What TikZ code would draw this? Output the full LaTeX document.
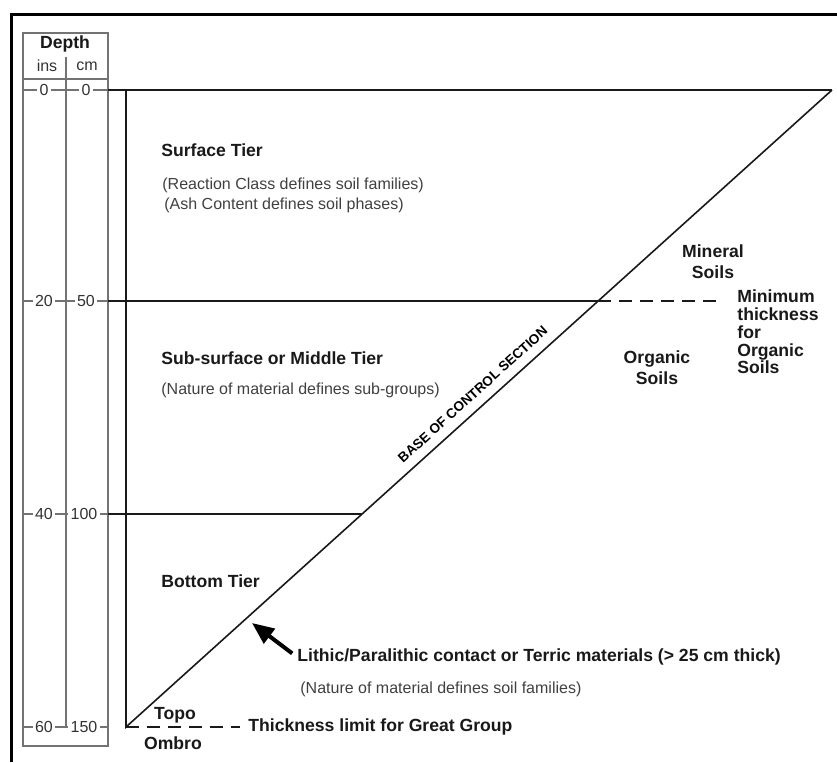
\documentclass[tikz,border=0pt]{standalone}
\usepackage{fontspec}
\setmainfont{Liberation Sans}
\usetikzlibrary{arrows.meta}
\tikzset{
  tiername/.style={font=\fontsize{8.8}{9}\selectfont\bfseries, text=black!90, anchor=west, inner sep=0pt},
  tiernote/.style={font=\fontsize{8}{10}\selectfont, text=black!75, anchor=west, inner sep=0pt},
  soilname/.style={font=\fontsize{8.8}{10.5}\selectfont\bfseries, text=black!90, align=center, inner sep=0pt},
  depthlbl/.style={font=\fontsize{8}{9}\selectfont, text=black!80, fill=white, inner sep=1.2pt},
  boxline/.style={draw=black!55, line width=0.7pt},
  tierline/.style={draw=black!90, line width=1pt},
  limitline/.style={draw=black!90, line width=0.9pt, dash pattern=on 6.5pt off 4pt},
  contactarrow/.style={line width=2pt, -{Triangle[length=11pt,width=9pt]}},
}
\begin{document}
\begin{tikzpicture}[x=0.5pt,y=-0.5pt]
    \useasboundingbox (0,0) rectangle (837,762);
    % frame
    \draw[line width=1.5pt] (11,762) -- (11,14) -- (837,14);
    % depth scale
    \draw[boxline] (23,33) rectangle (108,746);
    \draw[boxline] (23,79) -- (108,79);
    \draw[boxline] (66,57) -- (66,727);
    \draw[boxline] (23,90) -- (108,90) (23,301) -- (108,301)
        (23,514) -- (108,514) (23,727) -- (108,727);
    \node[tiername, anchor=center] (depth) at (65,44) {Depth};
    \node[depthlbl] (ins) at (47,66) {ins};
    \node[depthlbl] (cm) at (87,66) {cm};
    \node[depthlbl] (ins0) at (44,90) {0};
    \node[depthlbl] (cm0) at (86,90) {0};
    \node[depthlbl] (ins20) at (44,301) {20};
    \node[depthlbl] (cm50) at (86,301) {50};
    \node[depthlbl] (ins40) at (44,514) {40};
    \node[depthlbl] (cm100) at (84,514) {100};
    \node[depthlbl] (ins60) at (44,727) {60};
    \node[depthlbl] (cm150) at (84,727) {150};
    % control section
    \coordinate (base) at (126,727);
    \coordinate (apex) at (832,90);
    \draw[tierline] (108,90) -- (apex);
    \draw[tierline] (108,301) -- (598,301);
    \draw[tierline] (108,514) -- (362,514);
    \draw[draw=black!90, line width=0.8pt] (126,90) -- (base)
        -- node[pos=0.505, sloped, above=4.5pt, inner sep=0pt,
                font=\fontsize{6.8}{7}\selectfont\bfseries] (basectrl) {BASE OF CONTROL SECTION}
        (apex);
    % tiers
    \node[tiername] (surface) at (161,150) {Surface Tier};
    \node[tiernote] (surfacefam) at (162,185) {(Reaction Class defines soil families)};
    \node[tiernote] (surfaceash) at (164,205) {(Ash Content defines soil phases)};
    \node[tiername] (middle) at (161,358) {Sub-surface or Middle Tier};
    \node[tiernote] (middlenote) at (161,390) {(Nature of material defines sub-groups)};
    \node[tiername] (bottom) at (161,581) {Bottom Tier};
    \node[tiername] (lithic) at (297,657) {Lithic/Paralithic contact or Terric materials (> 25 cm thick)};
    \node[tiernote] (lithicnote) at (300,689) {(Nature of material defines soil families)};
    \coordinate (contact) at (252,623);
    \draw[contactarrow, shorten <=3pt] (lithic.west) -- (contact);
    % soils
    \node[soilname] (mineral) at (713,262) {Mineral\\Soils};
    \node[soilname] (organic) at (657,368) {Organic\\Soils};
    \node[soilname, align=left, anchor=west, font=\fontsize{8.8}{8.9}\selectfont\bfseries] (minimum) at (737,332)
        {Minimum\\thickness\\for\\Organic\\Soils};
    \coordinate (minend) at (722,301);
    \draw[limitline] (598,301) -- (minend);
    % great group
    \node[soilname] (topo) at (175,715) {Topo};
    \node[soilname] (ombro) at (173,743) {Ombro};
    \node[tiername] (greatgroup) at (248,727) {Thickness limit for Great Group};
    \draw[limitline, shorten >=4pt] (base) -- (greatgroup.west);
\end{tikzpicture}
\end{document}
